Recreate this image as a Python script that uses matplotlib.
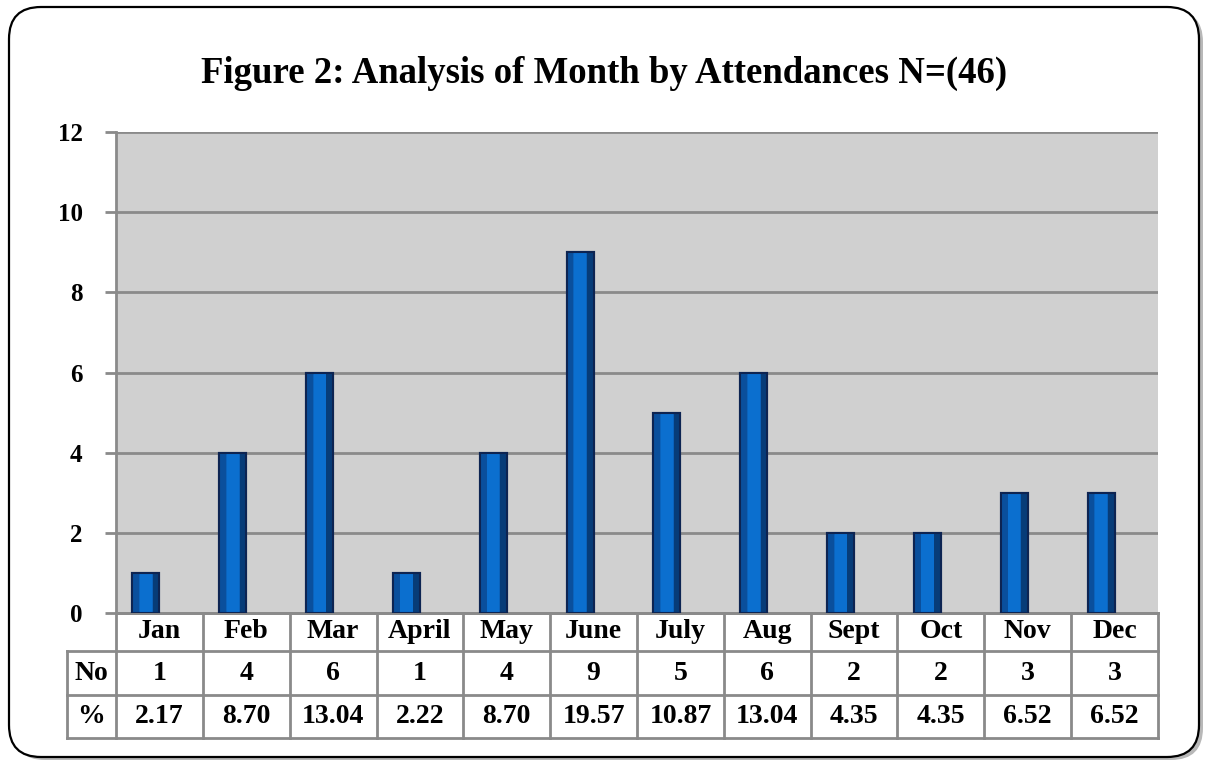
import matplotlib.pyplot as plt
import numpy as np
from matplotlib.patches import FancyBboxPatch
from matplotlib.transforms import IdentityTransform, blended_transform_factory

months = ['Jan', 'Feb', 'Mar', 'April', 'May', 'June', 'July', 'Aug', 'Sept', 'Oct', 'Nov', 'Dec']
counts = [1, 4, 6, 1, 4, 9, 5, 6, 2, 2, 3, 3]
percents = ['2.17', '8.70', '13.04', '2.22', '8.70', '19.57', '10.87', '13.04', '4.35', '4.35', '6.52', '6.52']
yticks = [0, 2, 4, 6, 8, 10, 12]

plt.rcParams['font.family'] = ['Liberation Serif', 'DejaVu Serif']
plt.rcParams['font.weight'] = 'bold'

W, H = 1208, 764
fig = plt.figure(figsize=(W / 100, H / 100), dpi=100)
fig.patch.set_facecolor('white')

# rounded outer frame with shadow
shadow = FancyBboxPatch((13, H - 760), 1190, 750, boxstyle='round,pad=0,rounding_size=32',
                        transform=IdentityTransform(), facecolor='#b8b8b8', edgecolor='none', zorder=0)
frame = FancyBboxPatch((9, H - 757), 1190, 750, boxstyle='round,pad=0,rounding_size=32',
                       transform=IdentityTransform(), facecolor='white', edgecolor='black', lw=1.6, zorder=0)
fig.patches.extend([shadow, frame])

ax_l, ax_r, ax_t, ax_b = 116, 1158, 132, 613
ax = fig.add_axes([ax_l / W, 1 - ax_b / H, (ax_r - ax_l) / W, (ax_b - ax_t) / H])
ax.set_facecolor('#d0d0d0')
ax.set_zorder(1)

x = np.arange(len(months))
bw = 0.31
pos = x - bw / 2
ax.bar(pos, counts, width=bw, color='#0a62bb', edgecolor='#0d2452', lw=1.5, zorder=3)
ax.bar(pos - bw * 0.36, counts, width=bw * 0.22, color='#0a4f9c', edgecolor='none', zorder=4)
ax.bar(pos + bw * 0.36, counts, width=bw * 0.22, color='#073c78', edgecolor='none', zorder=4)
ax.bar(pos, counts, width=bw * 0.45, color='#0b6fcf', edgecolor='none', zorder=4)
ax.bar(pos, counts, width=bw, color='none', edgecolor='#0d2452', lw=1.5, zorder=5)

ax.set_xlim(-0.5, len(months) - 0.5)
ax.set_ylim(0, 12)
ax.set_yticks(yticks)
ax.set_yticklabels([str(v) for v in yticks], fontsize=18, fontweight='bold')
ax.set_xticks([])
ax.grid(axis='y', color='#8a8a8a', lw=2)
ax.set_axisbelow(True)
for s in ['top', 'right']:
    ax.spines[s].set_visible(False)
ax.spines['left'].set_color('#8a8a8a')
ax.spines['left'].set_linewidth(2)
ax.spines['bottom'].set_color('#8a8a8a')
ax.spines['bottom'].set_linewidth(2)
ax.tick_params(axis='y', length=8, width=2, color='#8a8a8a', pad=16)

fig.text(0.5, 1 - 73 / H, 'Figure 2: Analysis of Month by Attendances N=(46)', fontsize=26.5,
         fontweight='bold', ha='center', va='center')

# data table under the axis
axh = ax_b - ax_t
def fy(py):
    return (ax_b - py) / axh

tr = blended_transform_factory(ax.transData, ax.transAxes)
rows = [613, 651, 695, 738]
lab_x = -0.5 - 49 / ((ax_r - ax_l) / len(months))
lc = '#8a8a8a'
for i, yy in enumerate(rows):
    x0 = -0.5 if i == 0 else lab_x
    ax.plot([x0, len(months) - 0.5], [fy(yy)] * 2, color=lc, lw=2, transform=tr, clip_on=False)
for k in range(len(months) + 1):
    ax.plot([k - 0.5] * 2, [fy(613), fy(738)], color=lc, lw=2, transform=tr, clip_on=False)
ax.plot([lab_x] * 2, [fy(651), fy(738)], color=lc, lw=2, transform=tr, clip_on=False)

fs = 20
ys = [(rows[j] + rows[j + 1]) / 2 for j in range(3)]
for i in range(len(months)):
    ax.text(i, fy(ys[0]), months[i], transform=tr, ha='center', va='center', fontsize=fs, fontweight='bold')
    ax.text(i, fy(ys[1]), str(counts[i]), transform=tr, ha='center', va='center', fontsize=fs, fontweight='bold')
    ax.text(i, fy(ys[2]), percents[i], transform=tr, ha='center', va='center', fontsize=fs, fontweight='bold')
ax.text((lab_x - 0.5) / 2, fy(ys[1]), 'No', transform=tr, ha='center', va='center', fontsize=fs, fontweight='bold')
ax.text((lab_x - 0.5) / 2, fy(ys[2]), '%', transform=tr, ha='center', va='center', fontsize=fs, fontweight='bold')

fig.savefig('out.png', dpi=100)
